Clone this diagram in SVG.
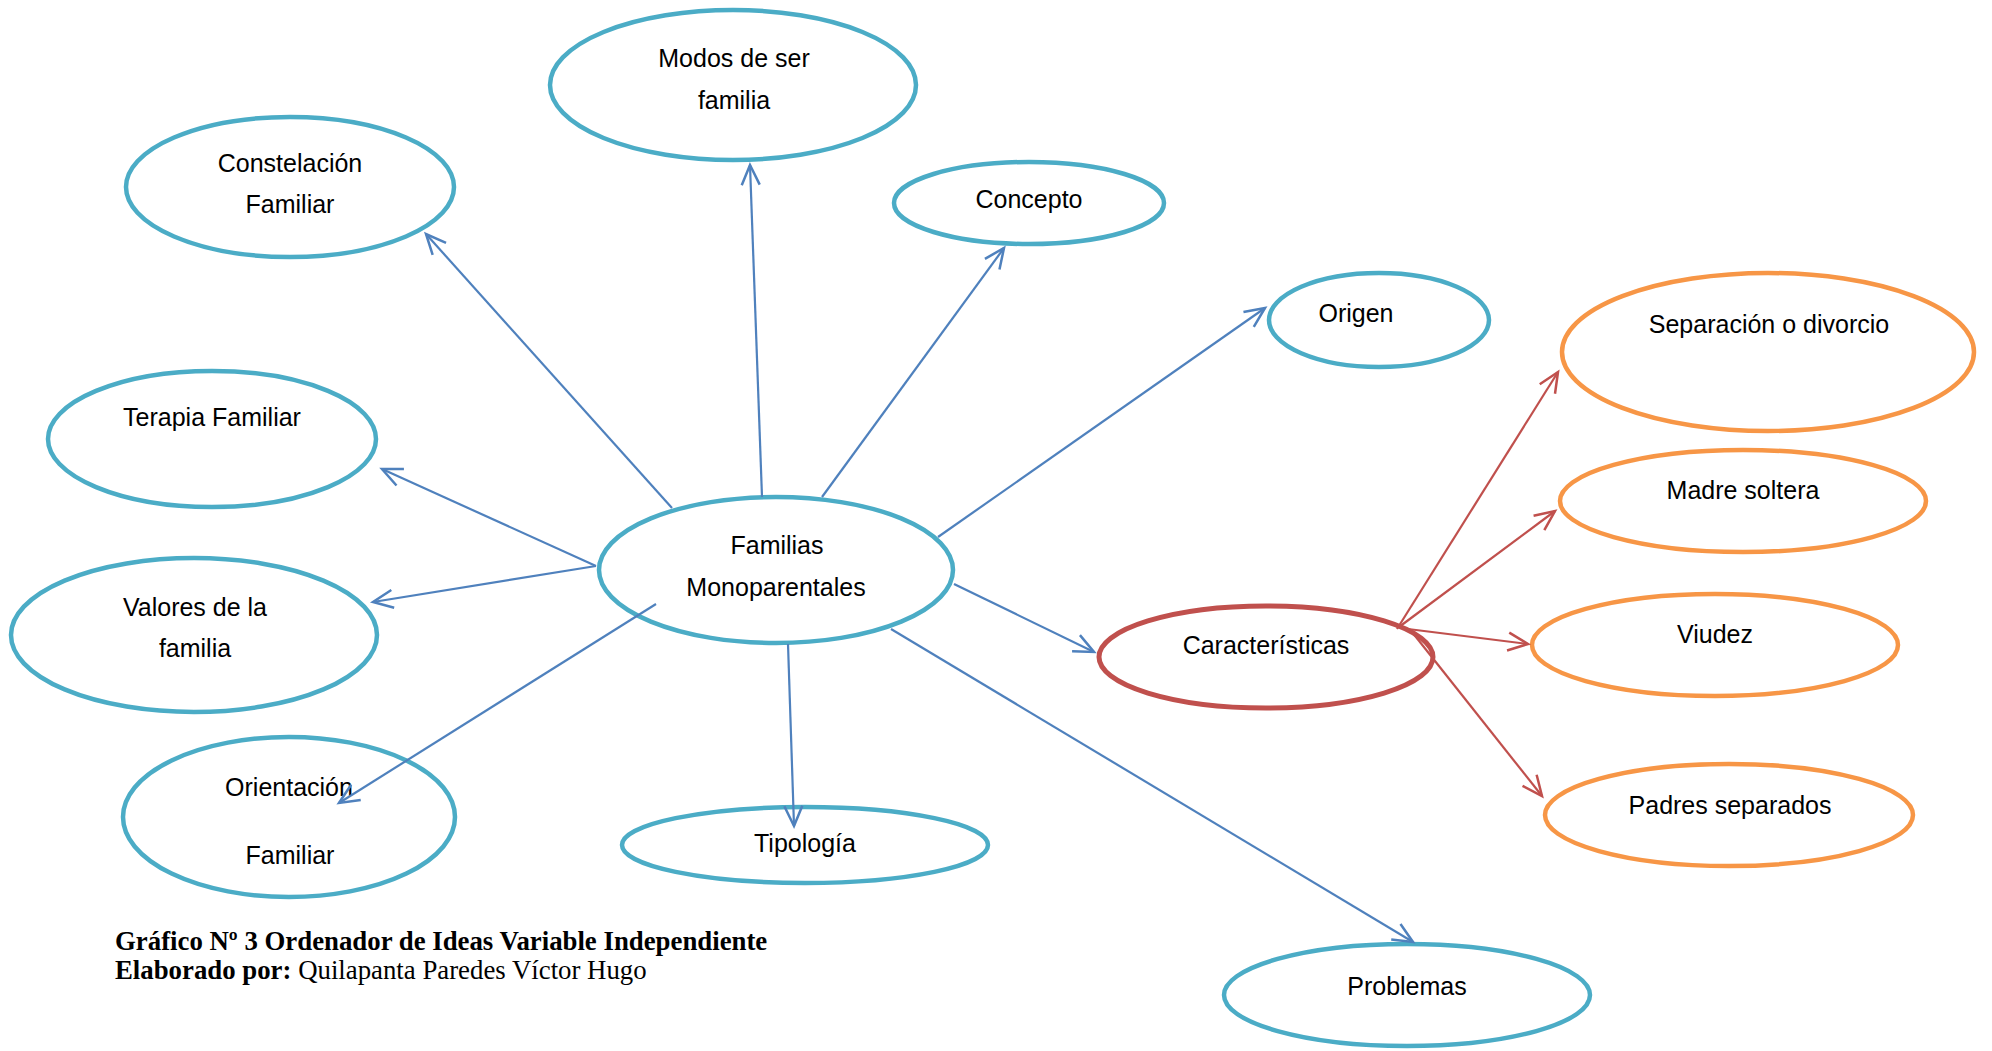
<svg xmlns="http://www.w3.org/2000/svg" width="1992" height="1051" viewBox="0 0 1992 1051">
<style>
.n{fill:#fff;stroke:#4BACC6;stroke-width:4.5}
.o{fill:#fff;stroke:#F79646;stroke-width:4.5}
.r{fill:#fff;stroke:#C0504D;stroke-width:5}
.t{font-family:"Liberation Sans",Arial,sans-serif;font-size:25px;fill:#000;text-anchor:middle}
.cb{stroke:#4F81BD;stroke-width:2.2;fill:none;marker-end:url(#ab)}
.cr{stroke:#C0504D;stroke-width:2.2;fill:none;marker-end:url(#ar)}
.cap{font-family:"Liberation Serif","Times New Roman",serif;font-size:26.8px;fill:#000}
</style>
<defs>
<marker id="ab" markerUnits="userSpaceOnUse" markerWidth="30" markerHeight="30" viewBox="-25 -15 30 30" refX="0" refY="0" orient="auto" overflow="visible">
<path d="M-20,-9 L0,0 L-20,9" fill="none" stroke="#4F81BD" stroke-width="2.5"/>
</marker>
<marker id="ar" markerUnits="userSpaceOnUse" markerWidth="30" markerHeight="30" viewBox="-25 -15 30 30" refX="0" refY="0" orient="auto" overflow="visible">
<path d="M-20,-9 L0,0 L-20,9" fill="none" stroke="#C0504D" stroke-width="2.5"/>
</marker>
</defs>
<rect width="1992" height="1051" fill="#fff"/>
<g id="n-modos"><ellipse class="n" cx="733" cy="85" rx="183" ry="75"/><text class="t" x="734" y="67">Modos de ser</text><text class="t" x="734" y="109">familia</text></g>
<g id="n-constelacion"><ellipse class="n" cx="290" cy="187" rx="164" ry="70"/><text class="t" x="290" y="172">Constelación</text><text class="t" x="290" y="213">Familiar</text></g>
<g id="n-concepto"><ellipse class="n" cx="1029" cy="203" rx="135" ry="41"/><text class="t" x="1029" y="208">Concepto</text></g>
<g id="n-origen"><ellipse class="n" cx="1379" cy="320" rx="110" ry="47"/><text class="t" x="1356" y="322">Origen</text></g>
<g id="n-separacion"><ellipse class="o" cx="1768" cy="352" rx="206" ry="79"/><text class="t" x="1769" y="333">Separación o divorcio</text></g>
<g id="n-terapia"><ellipse class="n" cx="212" cy="439" rx="164" ry="68"/><text class="t" x="212" y="426">Terapia Familiar</text></g>
<g id="n-madre"><ellipse class="o" cx="1743" cy="501" rx="183" ry="51"/><text class="t" x="1743" y="499">Madre soltera</text></g>
<g id="n-familias"><ellipse class="n" cx="776" cy="570" rx="177" ry="73"/><text class="t" x="777" y="554">Familias</text><text class="t" x="776" y="596">Monoparentales</text></g>
<g id="n-valores"><ellipse class="n" cx="194" cy="635" rx="183" ry="77"/><text class="t" x="195" y="616">Valores de la</text><text class="t" x="195" y="657">familia</text></g>
<g id="n-caracteristicas"><ellipse class="r" cx="1266" cy="657" rx="167" ry="51"/><text class="t" x="1266" y="654">Características</text></g>
<g id="n-viudez"><ellipse class="o" cx="1715" cy="645" rx="183" ry="51"/><text class="t" x="1715" y="643">Viudez</text></g>
<g id="n-orientacion"><ellipse class="n" cx="289" cy="817" rx="166" ry="80"/><text class="t" x="289" y="796">Orientación</text><text class="t" x="290" y="864">Familiar</text></g>
<g id="n-tipologia"><ellipse class="n" cx="805" cy="845" rx="183" ry="38"/><text class="t" x="805" y="852">Tipología</text></g>
<g id="n-padres"><ellipse class="o" cx="1729" cy="815" rx="184" ry="51"/><text class="t" x="1730" y="814">Padres separados</text></g>
<g id="n-problemas"><ellipse class="n" cx="1407" cy="995" rx="183" ry="51"/><text class="t" x="1407" y="995">Problemas</text></g>
<g id="connectors">
<line class="cb" x1="672" y1="508" x2="426" y2="234"/>
<line class="cb" x1="762" y1="497" x2="750" y2="165"/>
<line class="cb" x1="822" y1="497" x2="1004" y2="248"/>
<line class="cb" x1="938" y1="537" x2="1265" y2="308"/>
<line class="cb" x1="596" y1="566" x2="382" y2="469"/>
<line class="cb" x1="596" y1="566" x2="373" y2="602"/>
<line class="cb" x1="656" y1="604" x2="339" y2="803"/>
<line class="cb" x1="788" y1="644" x2="794" y2="826"/>
<line class="cb" x1="891" y1="629" x2="1413" y2="942"/>
<line class="cb" x1="954" y1="584" x2="1094" y2="652"/>
<line class="cr" x1="1397" y1="629" x2="1558" y2="372"/>
<line class="cr" x1="1399" y1="627" x2="1555" y2="511"/>
<line class="cr" x1="1408" y1="629" x2="1528" y2="644"/>
<line class="cr" x1="1412" y1="632" x2="1542" y2="796"/>
</g>
<g id="caption">
<text class="cap" x="115" y="950" font-weight="bold">Gráfico Nº 3 Ordenador de Ideas Variable Independiente</text>
<text class="cap" x="115" y="979"><tspan font-weight="bold">Elaborado por:</tspan> Quilapanta Paredes Víctor Hugo</text>
</g>
</svg>
